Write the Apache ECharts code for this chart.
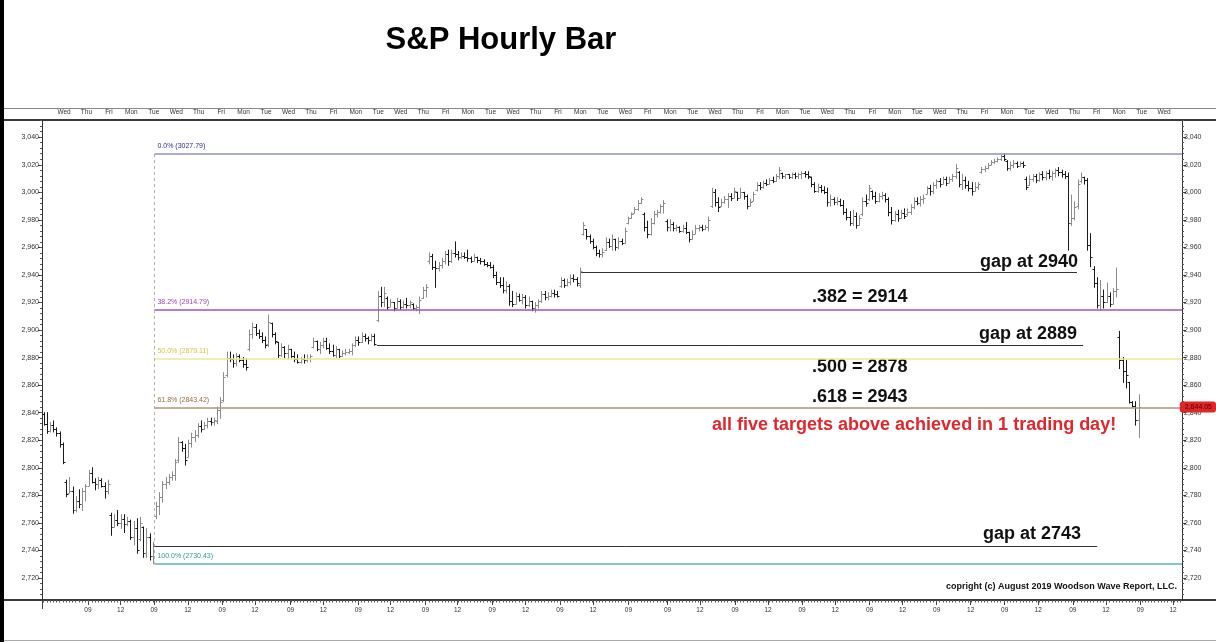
<!DOCTYPE html>
<html><head><meta charset="utf-8">
<script src="https://cdn.jsdelivr.net/npm/echarts@6/dist/echarts.min.js"></script>
<style>html,body{margin:0;padding:0;background:#fff}#c{width:1216px;height:642px}</style>
</head><body><div id="c"></div>
<script>
// ---- data ----
const dayLabels = ['Wed','Thu','Fri','Mon','Tue','Wed','Thu','Fri','Mon','Tue','Wed','Thu','Fri','Mon','Tue','Wed','Thu','Fri','Mon','Tue','Wed','Thu','Fri','Mon','Tue','Wed','Fri','Mon','Tue','Wed','Thu','Fri','Mon','Tue','Wed','Thu','Fri','Mon','Tue','Wed','Thu','Fri','Mon','Tue','Wed','Thu','Fri','Mon','Tue','Wed'];
const hourLabels = ['09','12','09','12','09','12','09','12','09','12','09','12','09','12','09','12','09','09','12','09','12','09','12','09','12','09','12','09','12','09','12','09','12'];
const hourPos = [13.8,24.0,34.4,44.9,55.6,65.8,76.9,87.1,98.0,108.0,118.9,128.9,139.7,150.1,160.8,171.1,182.1,194.3,204.4,215.3,225.6,236.2,246.5,257.2,267.5,278.1,288.7,299.3,309.7,320.5,330.8,341.5,351.7];
const yTicks = [2720,2740,2760,2780,2800,2820,2840,2860,2880,2900,2920,2940,2960,2980,3000,3020,3040];
const fibLevels = [3027.79, 2914.79, 2879.11, 2843.42, 2730.43];
const fibNames = ['0.0%','38.2%','50.0%','61.8%','100.0%'];
const gapLevels = [2942, 2889, 2743];
const gapSpans = [[167.4,321.8],[103.8,323.7],[34.5,328.1]];
const lastPrice = 2844.05;
// hourly bars: [open, high, low, close]
const hourlyBars = [
[2839,2840,2831,2832],[2832,2840,2825,2827],[2827,2833,2826,2831],[2831,2834,2826,2828],[2828,2829,2823,2825],[2825,2826,2815,2817],[2817,2818,2803,2804],
[2790,2791,2779,2781],[2782,2793,2782,2783],[2783,2786,2767,2769],[2769,2779,2768,2776],[2776,2784,2771,2774],[2774,2785,2769,2783],[2783,2788,2776,2787],
[2787,2798,2787,2796],[2796,2800,2789,2790],[2790,2792,2784,2788],[2788,2793,2785,2791],[2791,2792,2786,2787],[2787,2789,2778,2783],[2783,2791,2781,2788],
[2766,2767,2751,2757],[2757,2766,2757,2762],[2762,2769,2758,2760],[2760,2766,2756,2763],[2763,2766,2753,2759],[2759,2764,2758,2761],[2761,2762,2748,2750],
[2750,2761,2744,2756],[2756,2763,2738,2740],[2748,2764,2747,2760],[2757,2757,2735,2738],[2738,2756,2735,2750],[2750,2752,2733,2736],[2736,2746,2730.43,2743],
[2765,2775,2763,2772],[2772,2782,2766,2779],[2779,2790,2775,2788],[2788,2793,2785,2790],[2790,2795,2788,2793],[2793,2797,2791,2795],[2795,2806,2791,2804],
[2806,2822,2804,2819],[2819,2819,2812,2814],[2814,2817,2802,2806],[2808,2820,2808,2818],[2818,2825,2815,2822],[2822,2827,2819,2824],[2824,2832,2822,2830],
[2830,2834,2826,2828],[2828,2833,2828,2831],[2831,2836,2829,2834],[2834,2836,2831,2833],[2833,2836,2831,2835],[2834,2844,2832,2842],[2842,2851,2836,2848],
[2849,2869,2848,2866],[2867,2884,2866,2880],[2880,2884,2877,2879],[2879,2882,2873,2876],[2876,2883,2874,2881],[2881,2882,2877,2878],[2878,2880,2873,2875],
[2875,2879,2871,2873],[2886,2900,2885,2897],[2897,2905,2894,2902],[2902,2904,2896,2898],[2898,2900,2894,2896],[2896,2898,2891,2893],[2893,2895,2887,2889],
[2890,2911,2888,2906],[2905,2905,2895,2897],[2897,2898,2890,2892],[2891,2891,2880,2882],[2882,2890,2881,2888],[2888,2888,2880,2883],[2883,2889,2879,2886],
[2886,2886,2880,2881],[2881,2884,2877,2879],[2879,2882,2876,2877],[2877,2880,2876,2879],[2879,2882,2876,2878],[2878,2882,2877,2880],[2880,2882,2877,2881],
[2888,2894,2887,2892],[2892,2892,2885,2886],[2886,2891,2883,2889],[2889,2894,2887,2892],[2892,2894,2886,2887],[2887,2890,2883,2885],[2885,2889,2881,2882],
[2882,2888,2880,2886],[2886,2886,2880,2881],[2881,2885,2881,2883],[2883,2886,2882,2884],[2884,2886,2883,2885],[2885,2890,2882,2889],[2889,2895,2888,2893],
[2893,2895,2889,2891],[2891,2898,2891,2896],[2896,2897,2892,2894],[2894,2895,2890,2893],[2893,2897,2892,2896],[2896,2897,2889,2890],[2907,2928,2906,2925],
[2925,2931,2917,2920],[2920,2931,2917,2927],[2923,2924,2915,2917],[2917,2922,2917,2920],[2920,2920,2914,2916],[2916,2923,2916,2921],[2921,2922,2915,2917],
[2917,2921,2916,2919],[2919,2923,2916,2918],[2918,2921,2916,2920],[2919,2919,2915,2916],[2916,2918,2914,2917],[2917,2924,2912,2922],[2923,2931,2923,2929],
[2929,2933,2924,2931],[2950,2956,2948,2954],[2954,2955,2944,2946],[2946,2950,2931,2945],[2945,2949,2943,2947],[2947,2952,2945,2950],[2950,2957,2948,2955],
[2955,2958,2947,2950],[2950,2958,2949,2956],[2956,2964,2953,2955],[2955,2957,2951,2953],[2953,2956,2952,2954],[2954,2956,2952,2953],[2953,2958,2950,2952],
[2952,2953,2949,2950],[2950,2955,2950,2953],[2953,2953,2949,2951],[2951,2952,2948,2950],[2950,2951,2947,2948],[2948,2949,2946,2947],[2947,2949,2945,2946],
[2946,2947,2938,2940],[2940,2942,2933,2935],[2935,2938,2931,2933],[2933,2938,2927,2929],[2929,2935,2927,2932],[2932,2933,2918,2921],[2921,2928,2917,2919],
[2919,2927,2919,2925],[2925,2926,2921,2922],[2922,2926,2919,2924],[2924,2925,2916,2918],[2918,2924,2917,2921],[2921,2921,2914,2916],[2916,2920,2913,2918],
[2918,2922,2916,2921],[2921,2928,2920,2926],[2926,2928,2922,2924],[2924,2927,2922,2925],[2925,2929,2924,2927],[2927,2929,2924,2926],[2926,2928,2924,2925],
[2932,2938,2931,2936],[2936,2937,2931,2933],[2933,2937,2932,2935],[2935,2940,2933,2938],[2938,2940,2935,2937],[2937,2938,2932,2934],[2933,2945,2931,2943],
[2970,2978,2969,2976],[2973,2973,2966,2968],[2968,2969,2963,2965],[2965,2966,2959,2960],[2960,2961,2954,2956],[2956,2958,2953,2955],[2955,2959,2953,2957],
[2958,2967,2958,2964],[2964,2966,2960,2961],[2961,2969,2958,2966],[2966,2966,2958,2960],[2960,2967,2959,2965],[2965,2966,2962,2963],[2963,2974,2963,2972],
[2978,2982,2977,2981],[2981,2985,2981,2984],[2985,2989,2985,2988],[2988,2994,2987,2992],[2992,2996,2992,2995],
[2984,2985,2972,2975],[2975,2979,2967,2970],[2970,2981,2969,2978],[2978,2986,2977,2984],[2984,2987,2982,2986],[2986,2991,2985,2990],[2990,2994,2985,2992],
[2979,2980,2972,2975],[2975,2980,2972,2977],[2977,2978,2972,2974],[2974,2976,2972,2975],[2975,2975,2971,2972],[2972,2976,2971,2974],[2974,2978,2970,2971],
[2971,2971,2964,2966],[2966,2972,2966,2970],[2970,2976,2970,2974],[2974,2976,2972,2975],[2975,2976,2972,2973],[2973,2976,2973,2975],[2975,2982,2972,2980],
[2990,3003,2989,3000],[3000,3002,2990,2993],[2993,2996,2986,2989],[2990,2995,2990,2993],[2993,2997,2992,2995],[2995,2999,2989,2997],[2997,2999,2994,2996],
[2996,3003,2996,3001],[3000,3000,2994,2996],[2996,3003,2996,3000],[3000,3000,2995,2997],[2997,2998,2988,2990],[2990,2995,2990,2993],[2994,3000,2994,2999],
[3002,3007,3001,3005],[3005,3007,3002,3004],[3004,3008,3003,3007],[3007,3009,3005,3006],[3006,3010,3006,3009],[3009,3011,3007,3008],[3008,3013,3008,3012],
[3012,3018,3010,3016],[3014,3014,3010,3012],[3012,3013,3010,3013],[3013,3013,3010,3011],[3011,3014,3010,3013],[3013,3014,3010,3012],[3012,3014,3010,3013],
[3013,3015,3010,3014],[3014,3015,3011,3013],[3013,3015,3010,3012],[3011,3011,3004,3006],[3006,3007,3000,3001],[3001,3006,3000,3004],[3004,3005,3000,3002],
[3002,3004,2999,3000],[3000,3003,2990,2993],[2993,2998,2990,2995],[2995,2996,2991,2993],[2993,2996,2991,2994],[2994,2995,2990,2991],[2991,2994,2984,2986],
[2986,2988,2980,2982],[2982,2986,2976,2978],[2978,2987,2976,2983],[2983,2985,2974,2976],[2976,2983,2976,2981],[2984,2996,2983,2994],[2994,2998,2990,2992],
[2995,3005,2994,3003],[3001,3001,2995,2997],[2997,3000,2992,2994],[2994,2999,2993,2997],[2997,3000,2995,2998],[2998,2999,2993,2995],[2995,2996,2983,2986],
[2986,2989,2977,2980],[2980,2986,2979,2984],[2984,2987,2979,2981],[2981,2987,2981,2985],[2985,2988,2981,2983],[2984,2988,2983,2986],[2986,2991,2984,2989],
[2989,2996,2988,2994],[2994,2996,2991,2992],[2992,2997,2990,2995],[2995,2998,2992,2996],[2999,3004,2999,3003],[3003,3005,2998,3001],[3001,3007,2999,3005],
[3005,3009,3003,3008],[3008,3010,3004,3006],[3006,3011,3006,3010],[3010,3011,3005,3007],[3007,3011,3007,3010],[3010,3013,3008,3012],[3012,3020,3010,3018],
[3015,3015,3004,3006],[3006,3013,3002,3009],[3009,3011,3003,3005],[3005,3008,3001,3003],[3003,3007,2998,3001],[3001,3007,3001,3004],[3004,3007,3002,3006],
[3015,3018,3014,3017],[3017,3019,3015,3018],[3018,3021,3017,3020],[3020,3023,3020,3022],[3022,3024,3021,3023],[3023,3025,3022,3024],[3024,3027,3023,3026],
[3026,3027.79,3023,3024],[3023,3023,3016,3018],[3018,3022,3016,3020],[3020,3023,3018,3021],[3021,3022,3018,3019],[3019,3022,3019,3021],[3021,3022,3018,3020],
[3010,3011,3002,3004],[3005,3012,3005,3010],[3010,3013,3008,3012],[3012,3013,3007,3009],[3009,3014,3008,3013],[3013,3015,3009,3011],[3011,3015,3009,3014],
[3014,3016,3010,3012],[3012,3015,3009,3014],[3014,3017,3011,3016],[3016,3018,3012,3015],[3015,3016,3011,3013],[3013,3015,3010,3012],[3012,3014,2958,2978],
[2978,2998,2976,2981],[2981,2993,2980,2989],[2990,3009,2988,3006],[3008,3014,3007,3011],[3011,3011,3006,3009],[3009,3010,2958,2962],[2962,2970,2946,2953],
[2944,2946,2931,2934],[2934,2938,2916,2918],[2918,2936,2914.5,2925],[2925,2929,2916,2920],[2920,2934,2920,2925],[2925,2927,2917,2919],[2919,2930,2919,2928],
[2928,2945,2924,2930],[2895,2899,2872,2878],[2878,2880,2862,2870],[2870,2878,2858,2867],[2862,2862,2847,2848],[2848,2848,2844,2845],[2845,2848,2831,2835],
[2835,2853,2822,2844.05]
];

// ---- chart ----
const FONT = '"Liberation Sans", Arial, sans-serif';
const SLOTS = 355;
const minorY = []; for (let v = 2708; v <= 3052; v += 4) minorY.push(v);
const minorX = []; for (let s = 0; s < SLOTS; s++) minorX.push(s);

const barData = hourlyBars.map((b, i) => [i, b[0], b[1], b[2], b[3]]);

function renderItem(params, api) {
  const i = api.value(0), o = api.value(1), h = api.value(2), l = api.value(3), c = api.value(4);
  const ph = api.coord([i, h]), pl = api.coord([i, l]), po = api.coord([i, o]), pc = api.coord([i, c]);
  const x = Math.round(ph[0]) + 0.5;
  const t = 2;
  const color = c < o ? '#1a1a1a' : '#8c8c8c';
  const st = { stroke: color, lineWidth: 1 };
  const yo = Math.round(po[1]) + 0.5, yc = Math.round(pc[1]) + 0.5;
  return { type: 'group', children: [
    { type: 'line', shape: { x1: x, y1: ph[1] - 0.5, x2: x, y2: pl[1] + 0.5 }, style: st },
    { type: 'line', shape: { x1: x - t, y1: yo, x2: x, y2: yo }, style: st },
    { type: 'line', shape: { x1: x, y1: yc, x2: x + t, y2: yc }, style: st }
  ]};
}

const fibLineColors = ['#9090d0', '#a050c0', '#efe79a', '#b09477', '#5ab4b4'];
const fibTextColors = ['#2b2b9e', '#9a3fb5', '#d8c23c', '#9a6b3c', '#2a9a9a'];
const mlData = [];
fibLevels.forEach((v, k) => {
  mlData.push([
    { coord: [34.5, v], lineStyle: { color: fibLineColors[k], width: 1.5, type: 'solid' },
      label: { show: true, position: 'insideStartTop', formatter: fibNames[k] + ' (' + v.toFixed(2) + ')',
               color: fibTextColors[k], fontSize: 7, fontFamily: FONT, distance: [3, 4] } },
    { coord: [354.5, v] }
  ]);
});
mlData.push([
  { coord: [34.5, fibLevels[0]], lineStyle: { color: '#b0b0b0', width: 1, type: [3, 3] }, label: { show: false } },
  { coord: [34.5, fibLevels[4]] }
]);
gapLevels.forEach((v, k) => {
  mlData.push([
    { coord: [gapSpans[k][0], v], lineStyle: { color: '#333', width: 1, type: 'solid' }, label: { show: false } },
    { coord: [gapSpans[k][1], v] }
  ]);
});

const yBase = { type: 'value', gridIndex: 0, min: 2704, max: 3052.5, splitLine: { show: false } };
const lblStyle = { fontSize: 7, color: '#333', fontFamily: FONT };

const option = {
  animation: false,
  backgroundColor: '#fff',
  grid: [
    { left: 42, right: 34, top: 120, bottom: 42 },
    { left: 52.8, width: 1122.5, top: 120, height: 1 }
  ],
  xAxis: [
    { type: 'value', gridIndex: 0, min: -0.5, max: 354.5, show: false },
    { type: 'value', gridIndex: 0, min: -0.5, max: 354.5, position: 'bottom',
      axisLine: { show: false, onZero: false }, splitLine: { show: false },
      axisTick: { show: true, customValues: hourPos, length: 5, lineStyle: { color: '#444' } },
      axisLabel: { show: true, customValues: hourPos, margin: 7, fontSize: 6.5, color: '#333', fontFamily: FONT,
        formatter: v => { const k = hourPos.findIndex(p => Math.abs(p - v) < 1e-6); return k >= 0 ? hourLabels[k] : ''; } } },
    { type: 'value', gridIndex: 0, min: -0.5, max: 354.5, position: 'bottom',
      axisLine: { show: false, onZero: false }, splitLine: { show: false },
      axisTick: { show: true, customValues: minorX, length: 2.5, lineStyle: { color: '#555' } },
      axisLabel: { show: false } },
    { type: 'category', gridIndex: 1, data: dayLabels, position: 'top', boundaryGap: true,
      axisLine: { show: false }, axisTick: { show: false },
      axisLabel: { interval: 0, margin: 4, fontSize: 6.5, color: '#333', fontFamily: FONT } }
  ],
  yAxis: [
    Object.assign({}, yBase, { position: 'left',
      axisLine: { show: true, onZero: false, lineStyle: { color: '#333', width: 1 } },
      axisTick: { show: true, customValues: yTicks, length: 4, lineStyle: { color: '#333' } },
      axisLabel: Object.assign({ customValues: yTicks, margin: 3, formatter: v => v.toLocaleString('en-US') }, lblStyle) }),
    Object.assign({}, yBase, { position: 'right',
      axisLine: { show: true, onZero: false, lineStyle: { color: '#333', width: 1 } },
      axisTick: { show: true, customValues: yTicks, length: 4, lineStyle: { color: '#333' } },
      axisLabel: Object.assign({ customValues: yTicks, margin: 2, formatter: v => v.toLocaleString('en-US') }, lblStyle),
      axisPointer: { show: true, value: lastPrice, status: 'show', type: 'none', triggerTooltip: false,
        label: { show: true, precision: 2, formatter: p => p.value.toLocaleString('en-US', { minimumFractionDigits: 2, maximumFractionDigits: 2 }),
                 backgroundColor: '#e02626', color: '#4a0000', fontSize: 7, fontFamily: FONT, padding: [2, 4, 2, 5], margin: 2 } } }),
    Object.assign({}, yBase, { position: 'left', axisLine: { show: false, onZero: false },
      axisTick: { show: true, customValues: minorY, length: 2, lineStyle: { color: '#555' } }, axisLabel: { show: false } }),
    Object.assign({}, yBase, { position: 'right', axisLine: { show: false, onZero: false },
      axisTick: { show: true, customValues: minorY, length: 2, lineStyle: { color: '#555' } }, axisLabel: { show: false } }),
    { type: 'value', gridIndex: 1, show: false, min: 0, max: 1 }
  ],
  series: [
    { type: 'custom', xAxisIndex: 0, yAxisIndex: 0, renderItem: renderItem, data: barData,
      encode: { x: 0, y: [1, 2, 3, 4] }, clip: false, silent: true, z: 3,
      markLine: { symbol: 'none', silent: true, animation: false, data: mlData } },
    { type: 'line', xAxisIndex: 3, yAxisIndex: 4, data: [], silent: true }
  ],
  graphic: [
    { type: 'rect', shape: { x: 0, y: 0, width: 4, height: 642 }, style: { fill: '#000' }, silent: true },
    { type: 'line', shape: { x1: 4, y1: 108.5, x2: 1216, y2: 108.5 }, style: { stroke: '#8a8a8a', lineWidth: 1 }, silent: true },
    { type: 'rect', shape: { x: 4, y: 119, width: 1212, height: 2 }, style: { fill: '#3a3a3a' }, silent: true },
    { type: 'rect', shape: { x: 4, y: 599, width: 1212, height: 2 }, style: { fill: '#3a3a3a' }, silent: true },
    { type: 'line', shape: { x1: 4, y1: 640.5, x2: 1216, y2: 640.5 }, style: { stroke: '#aaa', lineWidth: 1 }, silent: true },
    { type: 'line', shape: { x1: 42.5, y1: 600, x2: 42.5, y2: 609 }, style: { stroke: '#444', lineWidth: 1 }, silent: true },
    { type: 'text', x: 501, y: 40, style: { text: 'S&P Hourly Bar', font: 'bold 31px ' + FONT, fill: '#000', textAlign: 'center', textVerticalAlign: 'middle' }, silent: true },
    { type: 'text', x: 1078, y: 262, style: { text: 'gap at 2940', font: 'bold 18px ' + FONT, fill: '#111', textAlign: 'right', textVerticalAlign: 'middle' }, silent: true },
    { type: 'text', x: 812, y: 297, style: { text: '.382 = 2914', font: 'bold 18px ' + FONT, fill: '#111', textAlign: 'left', textVerticalAlign: 'middle' }, silent: true },
    { type: 'text', x: 979, y: 334, style: { text: 'gap at 2889', font: 'bold 18px ' + FONT, fill: '#111', textAlign: 'left', textVerticalAlign: 'middle' }, silent: true },
    { type: 'text', x: 812, y: 367, style: { text: '.500 = 2878', font: 'bold 18px ' + FONT, fill: '#111', textAlign: 'left', textVerticalAlign: 'middle' }, silent: true },
    { type: 'text', x: 812, y: 397, style: { text: '.618 = 2943', font: 'bold 18px ' + FONT, fill: '#111', textAlign: 'left', textVerticalAlign: 'middle' }, silent: true },
    { type: 'text', x: 712, y: 425, style: { text: 'all five targets above achieved in 1 trading day!', font: 'bold 18px ' + FONT, fill: '#e3262b', textAlign: 'left', textVerticalAlign: 'middle' }, silent: true },
    { type: 'text', x: 983, y: 534, style: { text: 'gap at 2743', font: 'bold 18px ' + FONT, fill: '#111', textAlign: 'left', textVerticalAlign: 'middle' }, silent: true },
    { type: 'text', x: 946, y: 587, style: { text: 'copright (c) August 2019 Woodson Wave Report, LLC.', font: 'bold 9px ' + FONT, fill: '#111', textAlign: 'left', textVerticalAlign: 'middle' }, silent: true }
  ]
};

const chart = echarts.init(document.getElementById('c'), null, { renderer: 'canvas' });
chart.setOption(option);
</script>
</body></html>
